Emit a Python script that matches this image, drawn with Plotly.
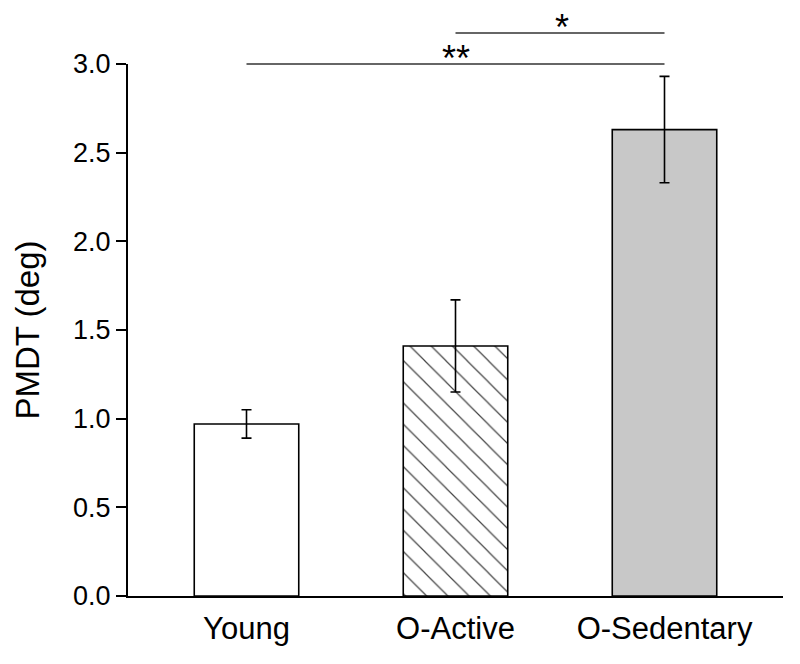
import plotly.graph_objects as go

categories = ["Young", "O-Active", "O-Sedentary"]
means = [0.97, 1.41, 2.63]
errors = [0.08, 0.26, 0.30]
bar_colors = ["white", "white", "#c8c8c8"]
bar_patterns = ["", "\\", ""]
y_ticks = [0.0, 0.5, 1.0, 1.5, 2.0, 2.5, 3.0]
y_max = 3.0

# significance brackets: (from category, to category, level in data units, label)
sig_from = ["Young", "O-Active"]
sig_to = ["O-Sedentary", "O-Sedentary"]
sig_level = [3.0, 3.175]
sig_label = ["**", "*"]
sig_label_x = [1.0, 1.51]

FONT = "Arial, Liberation Sans, Helvetica, sans-serif"

fig = go.Figure()
fig.add_trace(go.Bar(
    x=categories, y=means,
    width=0.5,
    marker=dict(
        color=bar_colors,
        line=dict(color="black", width=1.6),
        pattern=dict(shape=bar_patterns, size=15, solidity=0.08, fgcolor="#333333",
                     fgopacity=1, fillmode="overlay"),
    ),
    error_y=dict(type="data", array=errors, visible=True, color="black", thickness=1.6, width=5),
    showlegend=False,
))

idx = {c: i for i, c in enumerate(categories)}
for f, t, lv in zip(sig_from, sig_to, sig_level):
    fig.add_shape(type="line", xref="x", yref="paper",
                  x0=idx[f], x1=idx[t], y0=lv / y_max, y1=lv / y_max,
                  line=dict(color="#333333", width=1.6))
for lx, lv, lab in zip(sig_label_x, sig_level, sig_label):
    fig.add_annotation(x=lx, y=lv / y_max, xref="x", yref="paper", text=lab,
                       showarrow=False, yanchor="bottom", yshift=-17,
                       font=dict(family=FONT, size=36, color="black"))

fig.update_layout(
    width=792, height=656,
    margin=dict(l=120, r=17, t=56, b=68),
    plot_bgcolor="white", paper_bgcolor="white",
    font=dict(family=FONT, color="black"),
    xaxis=dict(range=[-0.567, 2.567], showline=True, linecolor="black", linewidth=2,
               ticks="", showgrid=False, zeroline=False,
               tickfont=dict(size=31), ticklabelstandoff=4),
    yaxis=dict(range=[0, y_max], tickvals=y_ticks, tickformat=".1f",
               showline=True, linecolor="black", linewidth=2,
               ticks="outside", ticklen=10, tickwidth=2, tickcolor="black",
               showgrid=False, zeroline=False, tickfont=dict(size=27),
               title=dict(text="PMDT (deg)", font=dict(size=33), standoff=24)),
)

fig.write_html("out.html")
